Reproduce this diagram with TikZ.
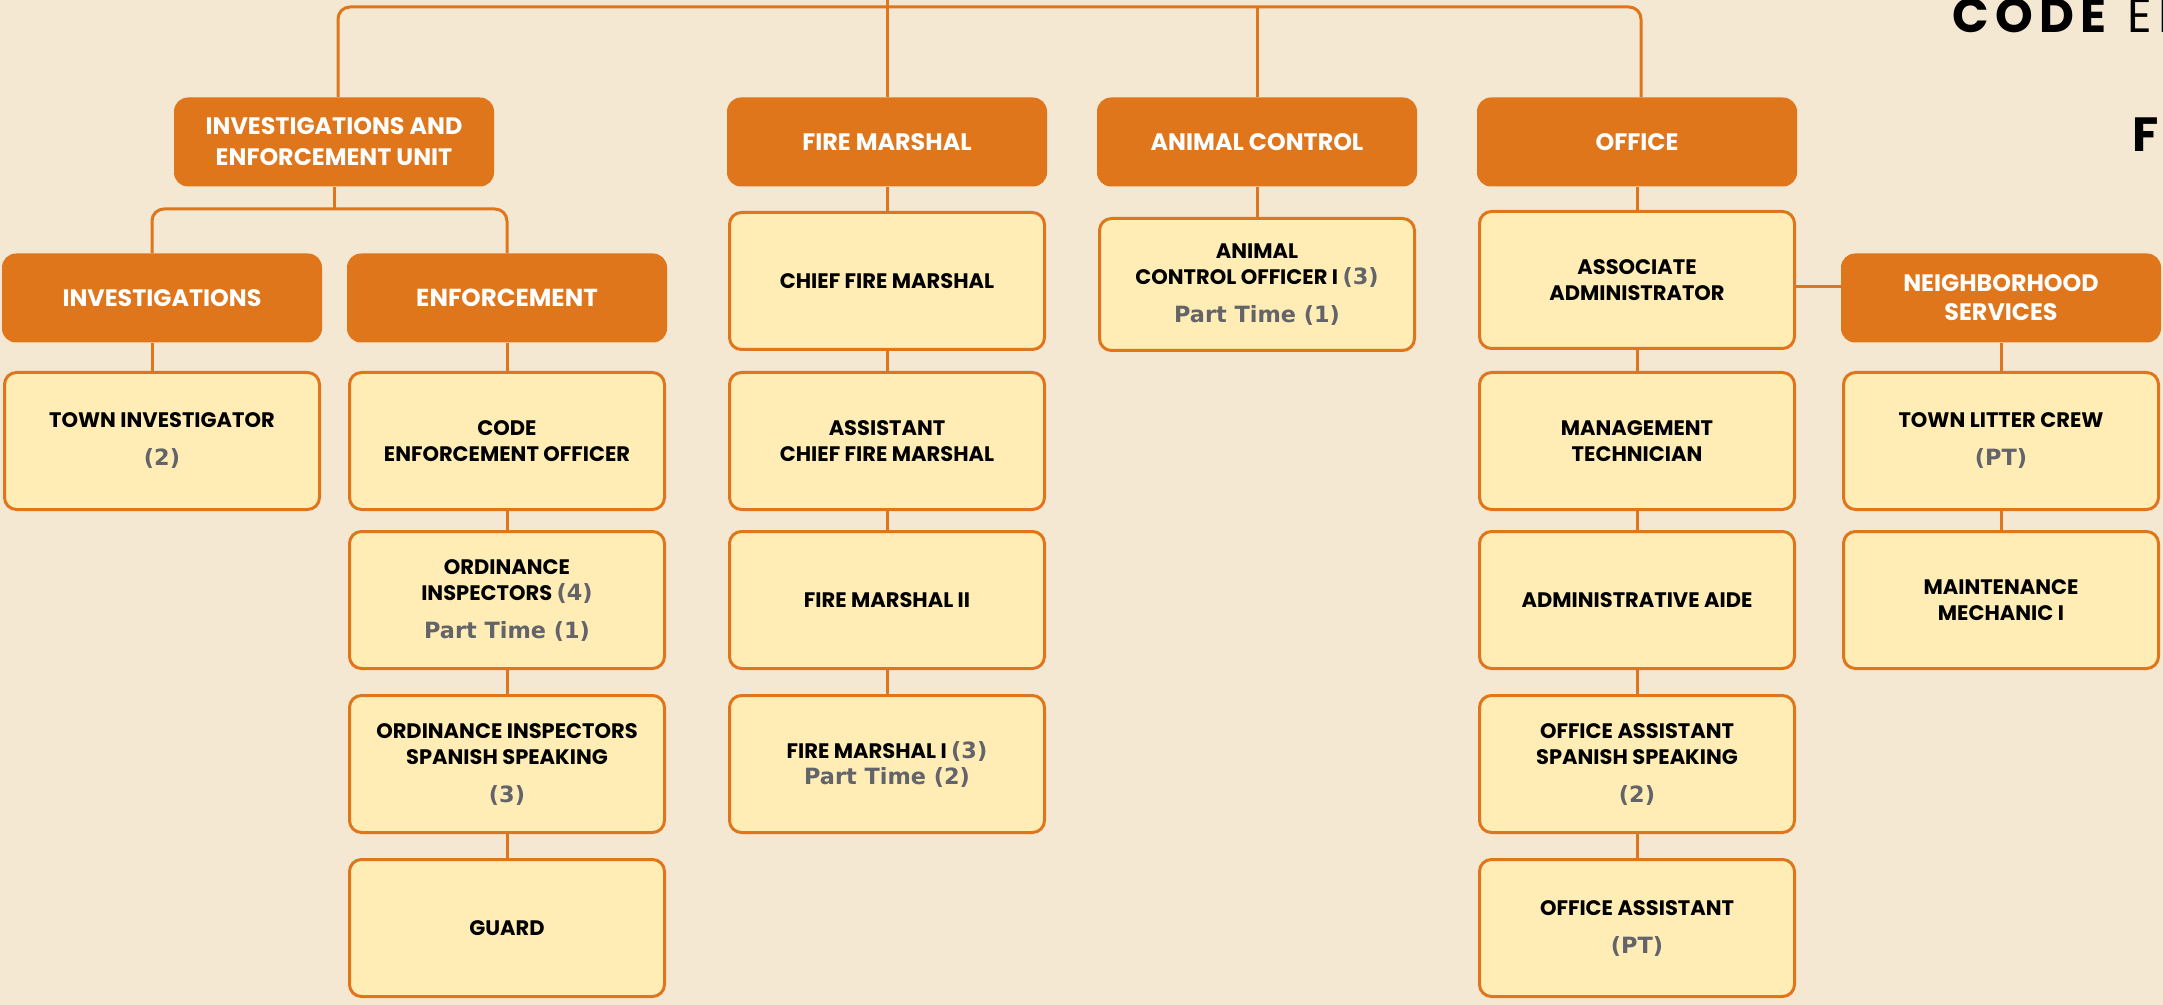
\documentclass[tikz,border=0pt]{standalone}
\usepackage{fontspec}
\setmainfont{Poppins}
\newfontfamily\dejavu{DejaVu Sans}
\newfontfamily\wide{Poppins}[LetterSpace=13]
\definecolor{paper}{RGB}{245,232,211}
\definecolor{burnt}{RGB}{223,118,28}
\definecolor{cream}{RGB}{255,237,181}
\definecolor{slate}{RGB}{98,100,106}
\newcommand{\hc}[1]{{\dejavu\fontsize{11.2}{13}\selectfont\color{slate}#1}}

\begin{document}
\begin{tikzpicture}[
	x=0.5pt, y=-0.5pt,
	unit/.style = {
		rectangle, rounded corners=7pt,
		fill=burnt, text=white,
		align=center, inner sep=0pt,
		minimum width=160pt, minimum height=44.5pt,
		font=\bfseries\fontsize{11.9}{14.5}\selectfont
	},
	big/.style = {
		font=\bfseries\fontsize{12.3}{15}\selectfont
	},
	post/.style = {
		rectangle, rounded corners=6pt,
		draw=burnt, line width=1.5pt, fill=cream,
		align=center, inner sep=0pt,
		minimum width=157.5pt, minimum height=68.5pt,
		font=\bfseries\fontsize{10.5}{13}\selectfont
	},
	link/.style = {
		draw=burnt, line width=1.5pt
	},
	heading/.style = {
		anchor=base west, inner sep=0pt,
		font=\wide\fontsize{24}{24}\selectfont
	}
]
	\useasboundingbox (0,0) rectangle (2163,1005);
	\fill[paper] (0,0) rectangle (2163,1005);
	\clip (0,0) rectangle (2163,1005);
	% Title (cut at the page edge)
	\node[heading] (code) at (1952,33) {\textbf{CODE}};
	\node[heading] (en) at (2127,33) {EN};
	\node[heading] (sub) at (2132,152) {\textbf{F}};
	% Units
	\node[unit, font=\bfseries\fontsize{11.9}{15.5}\selectfont] (ieu) at (334,142) {INVESTIGATIONS AND\\ENFORCEMENT UNIT};
	\node[unit] (fm) at (887,142) {FIRE MARSHAL};
	\node[unit] (ac) at (1257,142) {ANIMAL CONTROL};
	\node[unit] (office) at (1637,142) {OFFICE};
	\node[unit] (inv) at (162,298) {INVESTIGATIONS};
	\node[unit, big] (enf) at (507,298) {ENFORCEMENT};
	\node[unit] (nbh) at (2001,298) {NEIGHBORHOOD\\SERVICES};
	% Investigations and enforcement
	\node[post] (tinv) at (162,441) {TOWN INVESTIGATOR\\[6pt]\hc{(2)}};
	\node[post] (ceo) at (507,441) {CODE\\ENFORCEMENT OFFICER};
	\node[post] (oi) at (507,600) {ORDINANCE\\INSPECTORS \hc{(4)}\\[6pt]\hc{Part Time (1)}};
	\node[post] (ois) at (507,764) {ORDINANCE INSPECTORS\\SPANISH SPEAKING\\[6pt]\hc{(3)}};
	\node[post] (guard) at (507,928) {GUARD};
	% Fire marshal
	\node[post] (cfm) at (887,281) {CHIEF FIRE MARSHAL};
	\node[post] (acfm) at (887,441) {ASSISTANT\\CHIEF FIRE MARSHAL};
	\node[post] (fm2) at (887,600) {FIRE MARSHAL II};
	\node[post] (fm1) at (887,764) {FIRE MARSHAL I \hc{(3)}\\\hc{Part Time (2)}};
	% Animal control
	\node[post, minimum height=66pt] (aco) at (1257,284.5) {ANIMAL\\CONTROL OFFICER I \hc{(3)}\\[6pt]\hc{Part Time (1)}};
	% Office
	\node[post] (aa) at (1637,280) {ASSOCIATE\\ADMINISTRATOR};
	\node[post] (mt) at (1637,441) {MANAGEMENT\\TECHNICIAN};
	\node[post] (aide) at (1637,600) {ADMINISTRATIVE AIDE};
	\node[post] (oas) at (1637,764) {OFFICE ASSISTANT\\SPANISH SPEAKING\\[6pt]\hc{(2)}};
	\node[post] (oa) at (1637,928) {OFFICE ASSISTANT\\[6pt]\hc{(PT)}};
	% Neighborhood services
	\node[post] (tlc) at (2001,441) {TOWN LITTER CREW\\[6pt]\hc{(PT)}};
	\node[post] (mm) at (2001,600) {MAINTENANCE\\MECHANIC I};
	% Top bus
	\coordinate (root) at (887,0);
	\coordinate (bus) at (887,7);
	\draw[link, rounded corners=6pt] ([xshift=2pt]ieu.north) |- (bus) -| ([xshift=2pt]office.north);
	\draw[link] (root) -- (fm.north);
	\draw[link] (bus -| ac.north) -- (ac.north);
	% Unit split
	\coordinate (split) at (336,209);
	\draw[link] (ieu.south) -- (ieu.south |- split);
	\draw[link, rounded corners=6pt] ([xshift=-5pt]inv.north) |- (split) -| (enf.north);
	\draw[link] ([xshift=-5pt]inv.south) -- ([xshift=-5pt]tinv.north);
	\draw[link] ([yshift=-3.5pt]aa.east) -- ([yshift=-3.5pt]aa.east -| nbh.west);
	% Columns
	\foreach \a/\b in {enf/ceo, ceo/oi, oi/ois, ois/guard,
		fm/cfm, cfm/acfm, acfm/fm2, fm2/fm1, ac/aco,
		office/aa, aa/mt, mt/aide, aide/oas, oas/oa, nbh/tlc, tlc/mm}
		\draw[link] (\a.south) -- (\b.north);
\end{tikzpicture}
\end{document}
